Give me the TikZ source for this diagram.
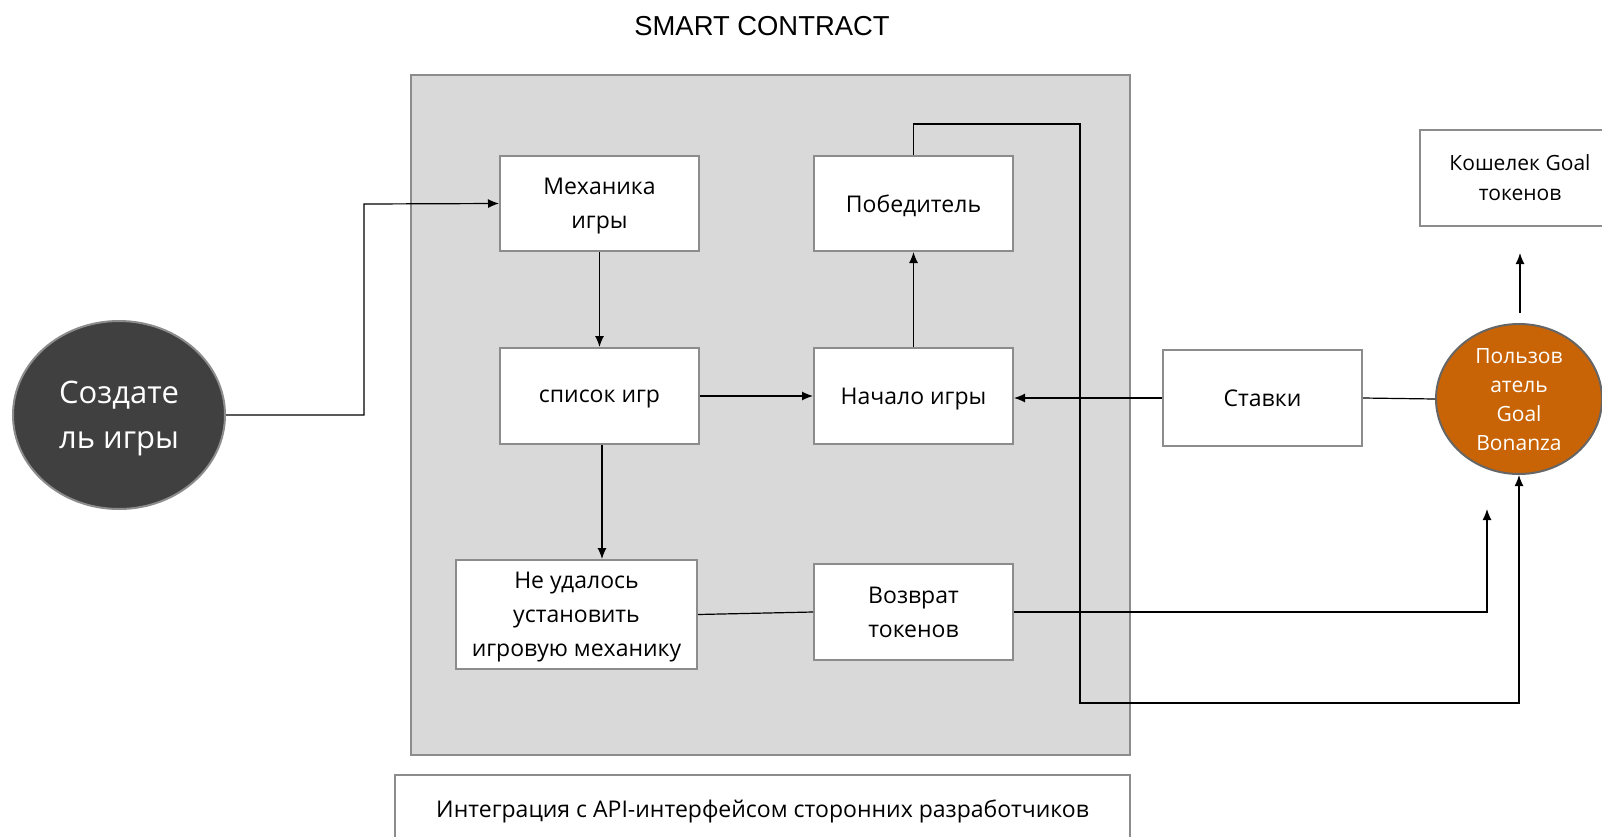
\documentclass[tikz,border=0pt]{standalone}
\usepackage{fontspec}
\setmainfont{Open Sans}
\newfontfamily\titlefont{Liberation Sans}
\usetikzlibrary{shapes.geometric,arrows.meta}

\definecolor{boxgray}{HTML}{8C8C8C}
\definecolor{panelgray}{HTML}{D9D9D9}
\definecolor{darkfill}{HTML}{404040}
\definecolor{userorange}{HTML}{C86405}

\tikzset{
  box/.style={draw=boxgray, line width=1pt, fill=white, align=center,
    inner sep=0pt, text depth=0pt, font=\fontsize{11.5}{17}\selectfont},
  actor/.style={ellipse, draw=boxgray, line width=1pt, inner sep=0pt,
    align=center, text depth=0pt, text=white},
  arr/.style={line width=0.6pt, -{Latex[length=5.5pt,width=4.5pt]}},
  line/.style={line width=0.6pt}
}

\begin{document}
\begin{tikzpicture}[x=0.5pt,y=-0.5pt]
  \useasboundingbox (0,0) rectangle (1602,836);
  % smart contract panel
  \filldraw[fill=panelgray, draw=boxgray, line width=1pt] (411,75) rectangle (1130,755);
  \node[font=\titlefont\fontsize{13.7}{15}\selectfont] (title) at (762,26) {SMART CONTRACT};

  \node[box, minimum width=99.5pt, minimum height=47.5pt] (mech) at (599.5,203.5) {Механика\\игры};
  \node[box, minimum width=99.5pt, minimum height=47.5pt] (win) at (913.5,203.5) {Победитель};
  \node[box, minimum width=99.5pt, minimum height=48pt] (list) at (599.5,396) {список игр};
  \node[box, minimum width=99.5pt, minimum height=48pt] (start) at (913.5,396) {Начало игры};
  \node[box, minimum width=120.5pt, minimum height=54.5pt] (fail) at (576.5,614.5) {Не удалось\\установить\\игровую механику};
  \node[box, minimum width=99.5pt, minimum height=48pt] (ret) at (913.5,612) {Возврат\\токенов};
  \node[box, minimum width=99.5pt, minimum height=48pt] (bets) at (1262.5,398) {Ставки};
  \node[box, minimum width=100pt, minimum height=48pt, font=\fontsize{10.5}{15}\selectfont] (wallet) at (1520,178) {Кошелек Goal\\токенов};
  \node[box, minimum width=367.5pt, minimum height=34pt] (api) at (762.5,809) {Интеграция с API-интерфейсом сторонних разработчиков};

  \node[actor, fill=darkfill, minimum width=106pt, minimum height=94pt,
    font=\fontsize{15.5}{22.5}\selectfont] (creator) at (119,415) {Создате\\ль игры};
  \node[actor, fill=userorange, draw=gray!80!black, minimum width=83pt, minimum height=75pt,
    font=\fontsize{10.5}{14.5}\selectfont] (user) at (1519,399) {Пользов\\атель\\Goal\\Bonanza};

  \coordinate (rettip) at (1487,509);
  \coordinate (ua) at (1520,313);
  \coordinate (ub) at (1520,253);

  \draw[arr] (creator.east) -| (364,204) -- (mech.west);
  \draw[arr] (mech.south) -- (list.north);
  \draw[arr] (list.south -| 602,0) -- (fail.north -| 602,0);
  \draw[arr] (list.east) -- (start.west);
  \draw[arr] (start.north) -- (win.south);
  \draw[arr] (win.north) |- (1080,124) -- (1080,703) -| (user.south);
  \draw[line] (fail.east) -- (ret.west);
  \draw[arr] (ret.east) -| (rettip);
  \draw[arr] (bets.west) -- (bets.west -| start.east);
  \draw[line] (bets.east) -- (user.west);
  \draw[arr] (ua) -- (ub);
\end{tikzpicture}
\end{document}
